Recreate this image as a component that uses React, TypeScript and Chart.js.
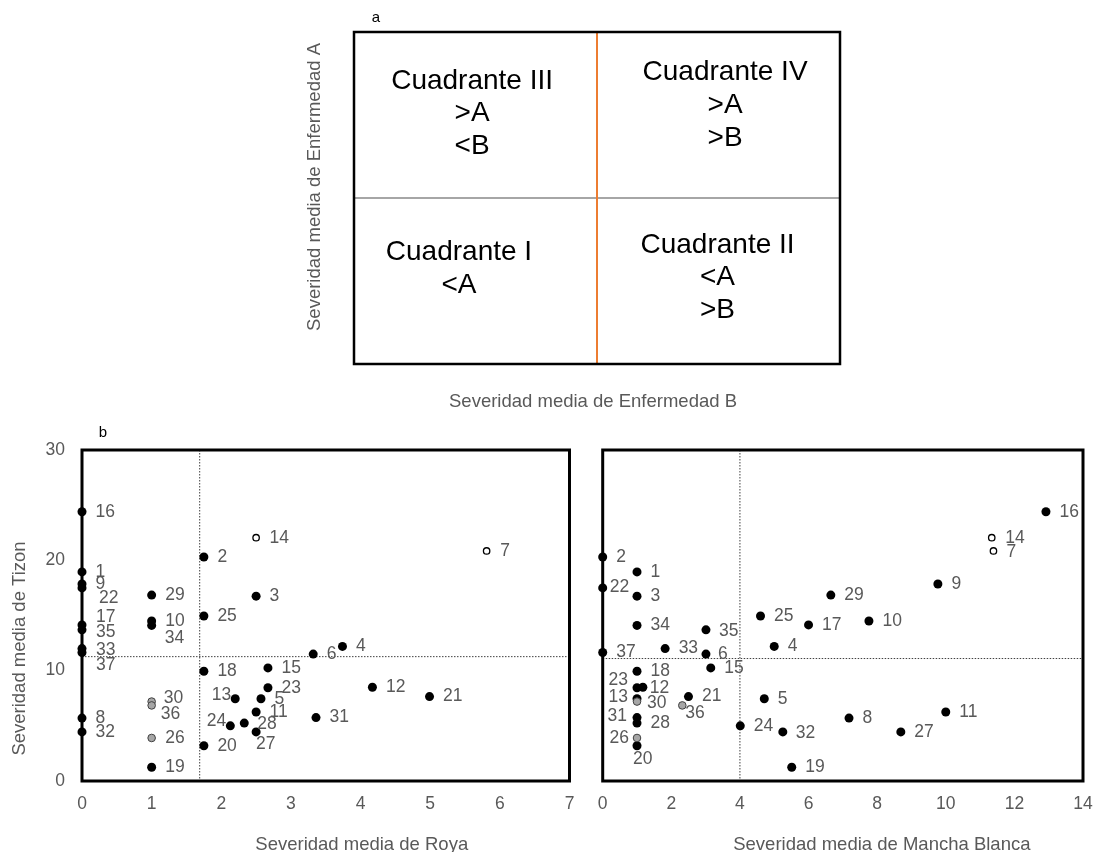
import React, { useEffect, useRef } from "react";
import { Chart, registerables } from "chart.js";

Chart.register(...registerables);

const FONT = "'Liberation Sans', Arial, Helvetica, sans-serif";
const TEXT_GRAY = "#595959";

// ---------- data ----------
const GENOTYPES = [
  "1", "2", "3", "4", "5", "6", "7", "8", "9", "10",
  "11", "12", "13", "14", "15", "16", "17", "18", "19", "20",
  "21", "22", "23", "24", "25", "26", "27", "28", "29", "30",
  "31", "32", "33", "34", "35", "36", "37",
];

// Severidad media de Tizon (y in both panels)
const TIZON = [
  18.95, 20.3, 16.75, 12.2, 7.45, 11.5, 20.85, 5.7, 17.85, 14.5,
  6.25, 8.5, 7.45, 22.05, 10.25, 24.4, 14.15, 9.95, 1.25, 3.2,
  7.65, 17.5, 8.45, 5.0, 14.95, 3.9, 4.45, 5.25, 16.85, 7.2,
  5.75, 4.45, 12.0, 14.1, 13.7, 6.85, 11.65,
];

// Severidad media de Roya (x, left panel)
const ROYA = [
  0, 1.75, 2.5, 3.74, 2.57, 3.32, 5.81, 0, 0, 1.0,
  2.5, 4.17, 2.2, 2.5, 2.67, 0, 0, 1.75, 1.0, 1.75,
  4.99, 0, 2.67, 2.13, 1.75, 1.0, 2.5, 2.33, 1.0, 1.0,
  3.36, 0, 0, 1.0, 0, 1.0, 0,
];

// Severidad media de Mancha Blanca (x, right panel)
const MANCHA = [
  1.0, 0, 1.0, 5.0, 4.71, 3.01, 11.39, 7.18, 9.77, 7.76,
  10.0, 1.17, 1.0, 11.34, 3.15, 12.92, 6.0, 1.0, 5.51, 1.0,
  2.5, 0, 1.0, 4.01, 4.6, 1.0, 8.69, 1.0, 6.65, 1.0,
  1.0, 5.25, 1.82, 1.0, 3.01, 2.32, 0,
];

// marker type: f = filled black, o = open, g = grey
const MARKER = [
  "f", "f", "f", "f", "f", "f", "o", "f", "f", "f",
  "f", "f", "f", "o", "f", "f", "f", "f", "f", "f",
  "f", "f", "f", "f", "f", "g", "f", "f", "f", "g",
  "f", "f", "f", "f", "f", "g", "f",
];

const ROYA_MEAN = 1.69;
const MANCHA_MEAN = 4.0;
const TIZON_MEAN_ROYA_PANEL = 11.27;
const TIZON_MEAN_MANCHA_PANEL = 11.1;

const ROYA_MAX = 7;
const ROYA_STEP = 1;
const MANCHA_MAX = 14;
const MANCHA_STEP = 2;
const TIZON_MAX = 30;
const TIZON_STEP = 10;

const TITLE_ROYA = "Severidad media de Roya";
const TITLE_MANCHA = "Severidad media de Mancha Blanca";
const TITLE_TIZON = "Severidad media de Tizon";
const TITLE_A = "Severidad media de Enfermedad A";
const TITLE_B = "Severidad media de Enfermedad B";

const QUADRANT_LINES = [
  ["Cuadrante III", ">A", "<B"],
  ["Cuadrante IV", ">A", ">B"],
  ["Cuadrante I", "<A"],
  ["Cuadrante II", "<A", ">B"],
];

// ---------- layout / style (not data) ----------
const QUADRANT_ANCHORS = [
  { x: 0.486, y: 1.705 },
  { x: 1.527, y: 1.755 },
  { x: 0.432, y: 0.673 },
  { x: 1.496, y: 0.717 },
];

type Off = { dx: number; dy: number; align?: CanvasTextAlign };
const DEFAULT_OFF: Off = { dx: 13.5, dy: 0, align: "left" };

const LEFT_OFFSETS: Record<string, Off> = {
  "22": { dx: 17, dy: 10 },
  "17": { dx: 14, dy: -8 },
  "35": { dx: 14, dy: 2 },
  "34": { dx: 13, dy: 13 },
  "33": { dx: 14, dy: 2 },
  "37": { dx: 14, dy: 13 },
  "13": { dx: -4, dy: -4, align: "right" },
  "30": { dx: 12, dy: -3 },
  "36": { dx: 9, dy: 9 },
  "24": { dx: -4, dy: -5, align: "right" },
  "27": { dx: 0, dy: 12 },
  "28": { dx: 13, dy: 1 },
};

const RIGHT_OFFSETS: Record<string, Off> = {
  "22": { dx: 7, dy: -1 },
  "23": { dx: -9, dy: -8, align: "right" },
  "12": { dx: 7, dy: 1 },
  "13": { dx: -9, dy: -2, align: "right" },
  "30": { dx: 10, dy: 2 },
  "36": { dx: 3, dy: 8 },
  "31": { dx: -10, dy: -1, align: "right" },
  "26": { dx: -8, dy: 0, align: "right" },
  "20": { dx: -4, dy: 13 },
  "35": { dx: 13, dy: 1 },
  "6": { dx: 12, dy: 0 },
  "32": { dx: 13, dy: 1 },
  "7": { dx: 13, dy: 1 },
};

// ---------- plugins ----------
function labelPlugin(offsets: Record<string, Off>) {
  return {
    id: "pointLabels",
    afterDatasetsDraw(chart: any) {
      const meta = chart.getDatasetMeta(0);
      const ctx = chart.ctx as CanvasRenderingContext2D;
      ctx.save();
      ctx.font = `17.5px ${FONT}`;
      ctx.fillStyle = TEXT_GRAY;
      ctx.textBaseline = "middle";
      meta.data.forEach((el: any, i: number) => {
        const g = GENOTYPES[i];
        const o = { ...DEFAULT_OFF, ...(offsets[g] || {}) };
        ctx.textAlign = o.align || "left";
        ctx.fillText(g, el.x + o.dx, el.y + o.dy);
      });
      ctx.restore();
    },
  };
}

function scatterFramePlugin(p: {
  meanX: number;
  meanY: number;
  xTitle: string;
  xTitleShift: number;
  yTitle?: string;
  letter?: string;
}) {
  return {
    id: "scatterFrame",
    beforeDatasetsDraw(chart: any) {
      const { ctx, chartArea: a, scales } = chart;
      ctx.save();
      const mx = scales.x.getPixelForValue(p.meanX);
      const my = scales.y.getPixelForValue(p.meanY);
      ctx.strokeStyle = "#404040";
      ctx.lineWidth = 1;
      ctx.setLineDash([1.5, 1.5]);
      ctx.beginPath();
      ctx.moveTo(mx, a.top);
      ctx.lineTo(mx, a.bottom);
      ctx.moveTo(a.left, my);
      ctx.lineTo(a.right, my);
      ctx.stroke();
      ctx.setLineDash([]);
      ctx.lineWidth = 3;
      ctx.strokeStyle = "#000";
      ctx.strokeRect(a.left, a.top, a.right - a.left, a.bottom - a.top);
      ctx.restore();
    },
    afterDraw(chart: any) {
      const { ctx, chartArea: a } = chart;
      ctx.save();
      ctx.fillStyle = TEXT_GRAY;
      ctx.font = `18.5px ${FONT}`;
      ctx.textAlign = "center";
      ctx.textBaseline = "middle";
      ctx.fillText(p.xTitle, (a.left + a.right) / 2 + p.xTitleShift, a.bottom + 64);
      if (p.yTitle) {
        ctx.save();
        ctx.translate(a.left - 62, (a.top + a.bottom) / 2 + 33);
        ctx.rotate(-Math.PI / 2);
        ctx.fillText(p.yTitle, 0, 0);
        ctx.restore();
      }
      if (p.letter) {
        ctx.fillStyle = "#000";
        ctx.font = `15px ${FONT}`;
        ctx.fillText(p.letter, a.left + 21, a.top - 17);
      }
      ctx.restore();
    },
  };
}

const quadrantPlugin = {
  id: "quadrants",
  afterDatasetsDraw(chart: any) {
    const { ctx, chartArea: a, scales } = chart;
    ctx.save();
    ctx.lineWidth = 2.5;
    ctx.strokeStyle = "#000";
    ctx.strokeRect(a.left, a.top, a.right - a.left, a.bottom - a.top);
    ctx.fillStyle = "#000";
    ctx.font = `28px ${FONT}`;
    ctx.textAlign = "center";
    ctx.textBaseline = "middle";
    QUADRANT_LINES.forEach((lines, qi) => {
      const anc = QUADRANT_ANCHORS[qi];
      const cx = scales.x.getPixelForValue(anc.x);
      const cy = scales.y.getPixelForValue(anc.y);
      lines.forEach((t, li) => ctx.fillText(t, cx, cy + li * 32.8));
    });
    // titles
    ctx.fillStyle = TEXT_GRAY;
    ctx.font = `18.5px ${FONT}`;
    ctx.fillText(TITLE_B, (a.left + a.right) / 2 - 4, a.bottom + 38);
    ctx.save();
    ctx.translate(a.left - 39, (a.top + a.bottom) / 2 - 11);
    ctx.rotate(-Math.PI / 2);
    ctx.fillText(TITLE_A, 0, 0);
    ctx.restore();
    ctx.fillStyle = "#000";
    ctx.font = `15px ${FONT}`;
    ctx.fillText("a", a.left + 22, a.top - 14);
    ctx.restore();
  },
};

// ---------- configs ----------
function tickFont() {
  return { family: FONT, size: 17.5 };
}

function scatterConfig(p: {
  xs: number[];
  xMax: number;
  xStep: number;
  meanX: number;
  meanY: number;
  showY: boolean;
  padLeft: number;
  padRight: number;
  xTitle: string;
  xTitleShift: number;
  yTitle?: string;
  letter?: string;
  offsets: Record<string, Off>;
}): any {
  const data = GENOTYPES.map((_, i) => ({ x: p.xs[i], y: TIZON[i] }));
  return {
    type: "scatter",
    data: {
      datasets: [
        {
          data,
          clip: false,
          pointRadius: MARKER.map((m) => (m === "f" ? 4.5 : m === "o" ? 3.2 : 3.8)),
          pointBackgroundColor: MARKER.map((m) =>
            m === "f" ? "#000" : m === "o" ? "#fff" : "#A6A6A6"
          ),
          pointBorderColor: MARKER.map((m) => (m === "g" ? "#404040" : "#000")),
          pointBorderWidth: MARKER.map((m) => (m === "f" ? 0 : m === "o" ? 1.3 : 1)),
        },
      ],
    },
    options: {
      responsive: false,
      animation: false,
      devicePixelRatio: 1,
      events: [],
      layout: { padding: { left: p.padLeft, right: p.padRight, top: 30, bottom: 0 } },
      plugins: { legend: { display: false }, tooltip: { enabled: false } },
      scales: {
        x: {
          type: "linear",
          min: 0,
          max: p.xMax,
          ticks: {
            stepSize: p.xStep,
            autoSkip: false,
            maxRotation: 0,
            padding: 13,
            color: TEXT_GRAY,
            font: tickFont(),
          },
          grid: { display: false, drawTicks: false },
          border: { display: false },
          afterFit: (s: any) => {
            s.height = 71;
            s.paddingLeft = 0;
            s.paddingRight = 0;
          },
        },
        y: {
          type: "linear",
          min: 0,
          max: TIZON_MAX,
          display: p.showY,
          ticks: {
            stepSize: TIZON_STEP,
            autoSkip: false,
            padding: 17,
            color: TEXT_GRAY,
            font: tickFont(),
          },
          grid: { display: false, drawTicks: false },
          border: { display: false },
          afterFit: (s: any) => {
            s.width = p.showY ? 82 : 0;
            s.paddingTop = 0;
            s.paddingBottom = 0;
          },
        },
      },
    },
    plugins: [
      scatterFramePlugin({
        meanX: p.meanX,
        meanY: p.meanY,
        xTitle: p.xTitle,
        xTitleShift: p.xTitleShift,
        yTitle: p.yTitle,
        letter: p.letter,
      }),
      labelPlugin(p.offsets),
    ],
  };
}

function quadrantConfig(): any {
  return {
    type: "scatter",
    data: {
      datasets: [
        {
          data: [
            { x: 1, y: 0 },
            { x: 1, y: 2 },
          ],
          showLine: true,
          borderColor: "#ED7D31",
          borderWidth: 2,
          pointRadius: 0,
        },
        {
          data: [
            { x: 0, y: 1 },
            { x: 2, y: 1 },
          ],
          showLine: true,
          borderColor: "#A6A6A6",
          borderWidth: 2,
          pointRadius: 0,
        },
      ],
    },
    options: {
      responsive: false,
      animation: false,
      devicePixelRatio: 1,
      events: [],
      layout: { padding: { left: 74, right: 40, top: 32, bottom: 56 } },
      plugins: { legend: { display: false }, tooltip: { enabled: false } },
      scales: {
        x: { type: "linear", min: 0, max: 2, display: false },
        y: { type: "linear", min: 0, max: 2, display: false },
      },
    },
    plugins: [quadrantPlugin],
  };
}

// ---------- components ----------
function ChartBox(props: {
  left: number;
  top: number;
  width: number;
  height: number;
  build: () => any;
}) {
  const ref = useRef<HTMLCanvasElement>(null);
  useEffect(() => {
    if (!ref.current) return;
    const chart = new Chart(ref.current, props.build());
    return () => chart.destroy();
  }, []);
  return (
    <canvas
      ref={ref}
      width={props.width}
      height={props.height}
      style={{
        position: "absolute",
        left: props.left,
        top: props.top,
        width: props.width,
        height: props.height,
        display: "block",
      }}
    />
  );
}

export default function App() {
  return (
    <div
      style={{
        position: "absolute",
        left: 0,
        top: 0,
        width: 1096,
        height: 852,
        background: "#fff",
        overflow: "hidden",
      }}
    >
      <ChartBox left={280} top={0} width={600} height={420} build={quadrantConfig} />
      <ChartBox
        left={0}
        top={420}
        width={590}
        height={432}
        build={() =>
          scatterConfig({
            xs: ROYA,
            xMax: ROYA_MAX,
            xStep: ROYA_STEP,
            meanX: ROYA_MEAN,
            meanY: TIZON_MEAN_ROYA_PANEL,
            showY: true,
            padLeft: 0,
            padRight: 20.5,
            xTitle: TITLE_ROYA,
            xTitleShift: 36,
            yTitle: TITLE_TIZON,
            letter: "b",
            offsets: LEFT_OFFSETS,
          })
        }
      />
      <ChartBox
        left={590}
        top={420}
        width={506}
        height={432}
        build={() =>
          scatterConfig({
            xs: MANCHA,
            xMax: MANCHA_MAX,
            xStep: MANCHA_STEP,
            meanX: MANCHA_MEAN,
            meanY: TIZON_MEAN_MANCHA_PANEL,
            showY: false,
            padLeft: 12.7,
            padRight: 13,
            xTitle: TITLE_MANCHA,
            xTitleShift: 39,
            offsets: RIGHT_OFFSETS,
          })
        }
      />
    </div>
  );
}
